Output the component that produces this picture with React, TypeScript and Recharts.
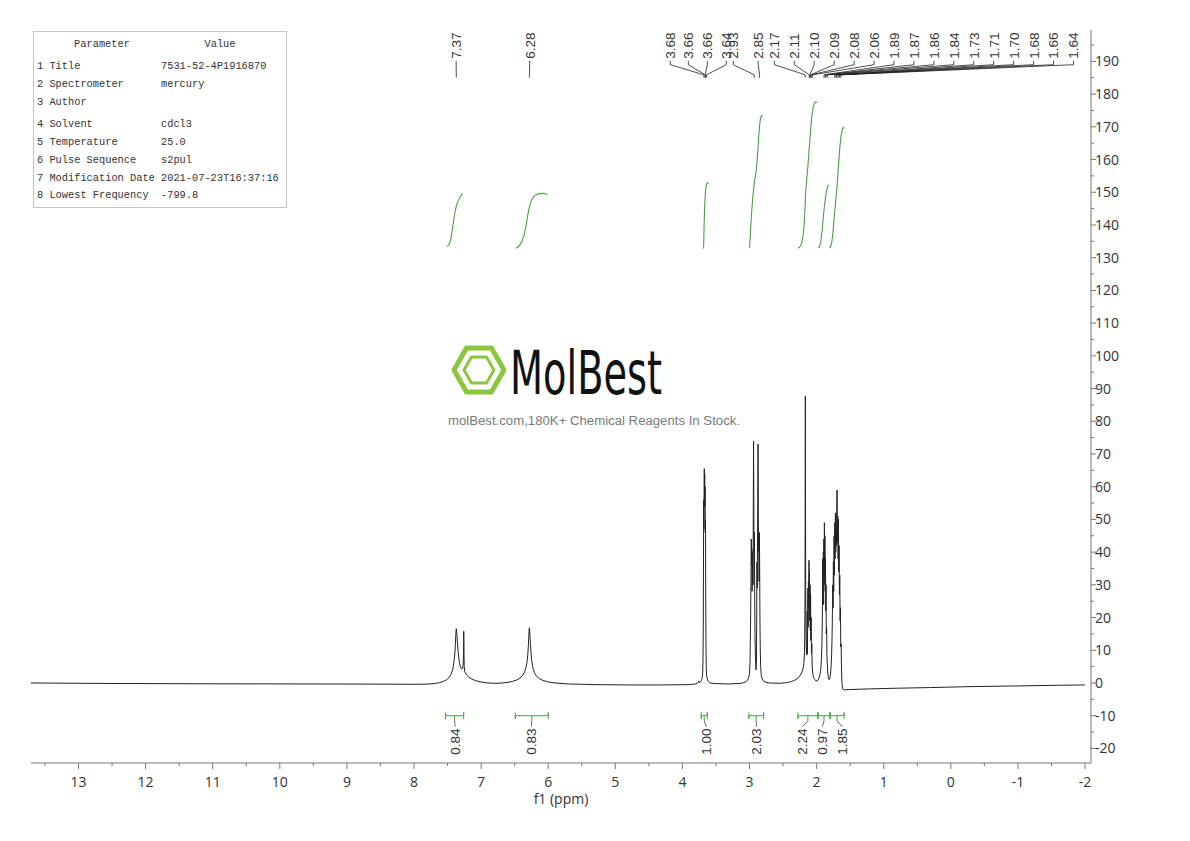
import { ComposedChart, Line, Scatter, XAxis, YAxis } from "recharts";

// ---- spectrum (ppm, intensity) ----
const spectrum: [number, number][] = [
  [13.708, 0.0], [12.5, -0.15], [11.0, -0.25], [9.5, -0.3], [8.5, -0.35], [8.0, -0.4], [7.8, -0.35],
  [7.7, -0.2], [7.62, 0.1], [7.56, 0.5], [7.52, 0.9], [7.48, 1.6], [7.45, 2.6], [7.43, 3.7], [7.415, 5.0],
  [7.4, 7.2], [7.39, 9.5], [7.382, 12.5], [7.376, 15.2], [7.371, 16.6], [7.366, 16.2], [7.36, 14.6],
  [7.352, 12.0], [7.343, 9.6], [7.333, 7.6], [7.32, 5.9], [7.305, 4.8], [7.29, 4.3], [7.278, 4.4],
  [7.268, 5.4], [7.262, 9.0], [7.259, 15.8], [7.256, 10.5], [7.252, 5.0], [7.245, 3.6], [7.23, 2.9],
  [7.21, 2.3], [7.18, 1.7], [7.14, 1.2], [7.08, 0.7], [7.0, 0.3], [6.9, 0.0], [6.78, -0.1], [6.68, 0.0],
  [6.6, 0.2], [6.53, 0.5], [6.47, 0.9], [6.42, 1.5], [6.38, 2.4], [6.35, 3.5], [6.33, 4.8], [6.315, 6.5],
  [6.305, 8.5], [6.297, 11.0], [6.29, 14.0], [6.285, 16.1], [6.281, 16.9], [6.277, 16.3], [6.272, 14.6],
  [6.265, 11.8], [6.257, 9.2], [6.248, 7.2], [6.235, 5.4], [6.22, 4.0], [6.2, 2.9], [6.17, 2.0],
  [6.13, 1.3], [6.08, 0.8], [6.0, 0.3], [5.9, 0.0], [5.7, -0.3], [5.3, -0.5], [4.8, -0.6], [4.3, -0.6],
  [3.9, -0.5], [3.8, -0.3], [3.77, 0.1], [3.755, 0.6], [3.745, 0.1], [3.73, 0.3], [3.715, 0.8],
  [3.705, 1.6], [3.698, 3.0], [3.693, 7], [3.689, 18], [3.686, 38], [3.683, 56], [3.68, 47], [3.677, 58],
  [3.674, 65.5], [3.671, 57], [3.668, 64], [3.665, 54], [3.662, 60], [3.659, 46], [3.656, 50],
  [3.653, 28], [3.649, 12], [3.645, 5], [3.64, 2.5], [3.63, 1.2], [3.615, 0.5], [3.59, 0.0], [3.5, -0.2],
  [3.3, -0.3], [3.12, -0.1], [3.06, 0.3], [3.03, 0.8], [3.01, 1.8], [3.0, 3.0], [2.993, 6], [2.988, 13],
  [2.983, 21], [2.978, 32], [2.974, 44], [2.97, 36], [2.966, 41], [2.962, 28], [2.957, 33], [2.952, 40],
  [2.948, 30], [2.944, 52], [2.94, 74], [2.936, 56], [2.932, 40], [2.928, 46], [2.923, 27], [2.918, 14],
  [2.912, 8], [2.906, 5], [2.902, 4], [2.897, 7], [2.893, 18], [2.889, 37], [2.885, 29], [2.881, 44],
  [2.877, 56], [2.873, 73], [2.869, 52], [2.865, 40], [2.861, 42], [2.857, 31], [2.853, 46], [2.849, 36],
  [2.845, 20], [2.84, 10], [2.834, 5], [2.826, 2.6], [2.815, 1.5], [2.8, 0.8], [2.77, 0.3], [2.7, 0.0],
  [2.55, -0.1], [2.45, 0.1], [2.38, 0.4], [2.33, 0.8], [2.29, 1.3], [2.26, 1.9], [2.235, 2.7],
  [2.215, 3.6], [2.2, 4.6], [2.19, 6.0], [2.183, 8.5], [2.177, 14], [2.173, 28], [2.17, 60],
  [2.168, 87.7], [2.166, 62], [2.163, 30], [2.159, 16], [2.155, 11], [2.151, 9], [2.147, 8.5],
  [2.143, 13], [2.14, 22], [2.137, 9], [2.134, 18], [2.13, 29], [2.126, 17], [2.122, 31], [2.118, 24],
  [2.114, 37.5], [2.11, 23], [2.106, 34], [2.102, 19], [2.098, 30], [2.094, 16], [2.09, 27], [2.086, 13],
  [2.082, 20], [2.077, 9], [2.072, 12], [2.067, 5.5], [2.062, 4], [2.055, 2.6], [2.045, 1.7], [2.03, 1.1],
  [2.01, 0.7], [1.995, 0.6], [1.98, 0.9], [1.965, 1.5], [1.952, 2.4], [1.942, 3.6], [1.934, 5.2],
  [1.927, 8], [1.921, 12], [1.916, 18], [1.912, 26], [1.908, 38], [1.904, 27], [1.9, 40], [1.896, 24],
  [1.892, 44], [1.888, 30], [1.884, 49], [1.88, 33], [1.876, 45], [1.872, 28], [1.868, 38], [1.864, 22],
  [1.86, 30], [1.856, 15], [1.851, 17], [1.846, 8], [1.841, 6], [1.835, 3.4], [1.828, 2.0], [1.82, 1.2],
  [1.812, 1.0], [1.804, 1.4], [1.797, 2.2], [1.79, 3.5], [1.783, 5.5], [1.776, 9], [1.77, 14],
  [1.765, 21], [1.76, 30], [1.755, 23], [1.75, 37], [1.745, 28], [1.74, 45], [1.735, 33], [1.73, 49],
  [1.725, 38], [1.72, 52], [1.715, 40], [1.71, 47], [1.705, 42], [1.7, 54], [1.695, 59], [1.69, 43],
  [1.685, 51], [1.68, 38], [1.675, 50], [1.67, 34], [1.665, 42], [1.66, 27], [1.655, 33], [1.65, 19],
  [1.645, 23], [1.64, 11], [1.635, 12], [1.63, 5], [1.625, 1.5], [1.62, -0.5], [1.614, -1.8],
  [1.6, -2.1], [1.5, -2.0], [1.2, -1.8], [0.8, -1.6], [0.3, -1.4], [-0.3, -1.1], [-1.0, -0.9],
  [-1.6, -0.7], [-2.0, -0.6],
];

// ---- integral curves (green) ----
const integralCurves: [number, number][][] = [
  [[7.51, 133.4], [7.48, 133.9], [7.455, 135.2], [7.435, 137.8], [7.415, 140.6], [7.395, 143.2], [7.375, 145.3], [7.35, 147.0], [7.32, 148.4], [7.29, 149.3], [7.275, 149.6]],
  [[6.48, 132.9], [6.44, 133.4], [6.4, 134.6], [6.36, 136.8], [6.33, 139.8], [6.305, 143.0], [6.28, 145.6], [6.25, 147.6], [6.21, 148.9], [6.15, 149.5], [6.08, 149.7], [6.03, 149.5], [6.015, 149.2]],
  [[3.69, 132.8], [3.684, 133.3], [3.677, 140], [3.668, 146], [3.655, 150.5], [3.64, 152.5], [3.625, 152.9], [3.615, 152.6]],
  [[3.005, 133.0], [2.998, 133.3], [2.985, 138], [2.97, 143.5], [2.955, 147.5], [2.94, 150.8], [2.925, 153.6], [2.91, 155.2], [2.895, 157.5], [2.88, 161.5], [2.865, 166.5], [2.85, 170.5], [2.835, 172.8], [2.82, 173.4], [2.805, 173.2]],
  [[2.275, 132.9], [2.26, 133.1], [2.235, 133.8], [2.21, 135.5], [2.19, 139], [2.175, 144], [2.165, 149.5], [2.15, 153.5], [2.13, 158], [2.11, 163.5], [2.09, 169], [2.07, 173.5], [2.05, 176.2], [2.03, 177.3], [2.01, 177.6], [1.995, 177.3]],
  [[1.975, 132.9], [1.96, 133.2], [1.94, 134.5], [1.92, 138], [1.9, 142.5], [1.88, 146.5], [1.86, 149.5], [1.84, 151.5], [1.825, 152.1], [1.815, 151.9]],
  [[1.81, 132.9], [1.795, 133.2], [1.775, 134.5], [1.755, 138], [1.735, 143], [1.715, 147.5], [1.695, 152], [1.675, 158], [1.655, 163.5], [1.635, 167.5], [1.615, 169.4], [1.6, 169.8], [1.59, 169.5]],
];

// ---- peak picking labels ----
const peakLabels = ["7.37", "6.28", "3.68", "3.66", "3.66", "3.64", "2.93", "2.85", "2.17", "2.11", "2.10", "2.09", "2.08", "2.06", "1.89", "1.87", "1.86", "1.84", "1.73", "1.71", "1.70", "1.68", "1.66", "1.64"];
// where each label sits along the ppm axis
const peakLabelAt = [7.372, 6.276, 4.181, 3.912, 3.629, 3.346, 3.242, 2.87, 2.63, 2.333, 2.036, 1.738, 1.441, 1.144, 0.847, 0.55, 0.252, -0.045, -0.342, -0.639, -0.937, -1.234, -1.531, -1.828];

// ---- integral brackets ----
const integralValues = ["0.84", "0.83", "1.00", "2.03", "2.24", "0.97", "1.85"];
const integralFrom = [7.53, 6.49, 3.72, 3.01, 2.28, 1.98, 1.8];
const integralTo = [7.26, 6.0, 3.63, 2.79, 1.98, 1.8, 1.59];
const integralLabelAt = [7.386, 6.253, 3.644, 2.899, 2.213, 1.915, 1.616];

const ppmTicks = [13.5, 13, 12.5, 12, 11.5, 11, 10.5, 10, 9.5, 9, 8.5, 8, 7.5, 7, 6.5, 6, 5.5, 5, 4.5, 4, 3.5, 3, 2.5, 2, 1.5, 1, 0.5, 0, -0.5, -1, -1.5, -2];
const intensityTicks = [-20, -15, -10, -5, 0, 5, 10, 15, 20, 25, 30, 35, 40, 45, 50, 55, 60, 65, 70, 75, 80, 85, 90, 95, 100, 105, 110, 115, 120, 125, 130, 135, 140, 145, 150, 155, 160, 165, 170, 175, 180, 185, 190, 195];

const paramNames = ["1 Title", "2 Spectrometer", "3 Author", "4 Solvent", "5 Temperature", "6 Pulse Sequence", "7 Modification Date", "8 Lowest Frequency"];
const paramValues = ["7531-52-4P1916870", "mercury", "", "cdcl3", "25.0", "s2pul", "2021-07-23T16:37:16", "-799.8"];

const GREEN = "#4c9f45";
const INK = "#333";
const AXIS = "#777";
const SANS = "'Open Sans', 'Noto Sans', sans-serif";
const LABEL_FONT = "'Liberation Sans', Arial, sans-serif";

const toPts = (arr: [number, number][]) => arr.map(([x, y]) => ({ x, y }));

const XTick = (props: any) => {
  const { x, y, payload } = props;
  const v = payload.value as number;
  const major = Math.abs(v - Math.round(v)) < 1e-6;
  return (
    <g>
      <line x1={x} y1={y} x2={x} y2={y + (major ? 6 : 3)} stroke={AXIS} />
      {major && (
        <text x={x} y={y + 24} textAnchor="middle" fontSize={14} fontFamily={SANS} fill={INK}>
          {v}
        </text>
      )}
    </g>
  );
};

const YTick = (props: any) => {
  const { x, y, payload } = props;
  const v = payload.value as number;
  const major = v % 10 === 0;
  return (
    <g>
      <line x1={x} y1={y} x2={x + (major ? 5 : 3)} y2={y} stroke={AXIS} />
      {major && (
        <text x={x + 4} y={y} dy="0.36em" textAnchor="start" fontSize={14} fontFamily={SANS} fill={INK}>
          {v}
        </text>
      )}
    </g>
  );
};

const RotatedLabel = (props: any) => {
  const { cx, cy, payload } = props;
  if (cx == null || cy == null) return <g />;
  return (
    <text
      transform={`translate(${cx},${cy}) rotate(-90)`}
      dy="0.36em"
      textAnchor={payload.anchor}
      fontSize={13.5}
      fontFamily={LABEL_FONT}
      fill={INK}
    >
      {payload.text}
    </text>
  );
};

const lineProps = {
  dataKey: "y",
  type: "linear" as const,
  dot: false,
  activeDot: false,
  isAnimationActive: false,
  legendType: "none" as const,
};

const ParamTable = () => {
  const rowY = [65, 83, 101, 123, 141, 159, 177, 194];
  const cw = 6.2;
  const t = (s: string, x: number, y: number, anchor: "start" | "middle" = "start") =>
    s ? (
      <text
        x={x}
        y={y + 4}
        fontSize={10.6}
        fontFamily="'Liberation Mono', 'DejaVu Sans Mono', monospace"
        fill={INK}
        textAnchor={anchor}
        textLength={s.length * cw}
        lengthAdjust="spacingAndGlyphs"
      >
        {s}
      </text>
    ) : null;
  return (
    <g>
      <rect x={33.5} y={31.5} width={253} height={176} fill="#fff" stroke="#c4c4c4" />
      {t("Parameter", 102, 43, "middle")}
      {t("Value", 220, 43, "middle")}
      {paramNames.map((n, i) => (
        <g key={n}>
          {t(n, 37, rowY[i])}
          {t(paramValues[i], 161, rowY[i])}
        </g>
      ))}
    </g>
  );
};

const Watermark = () => (
  <g>
    <polygon
      points="504,370 491.5,348 466.5,348 454,370 466.5,392 491.5,392"
      fill="none"
      stroke="#8cc63f"
      strokeWidth={5}
      strokeLinejoin="round"
    />
    <polygon
      points="494,370 486.5,357 471.5,357 464,370 471.5,383 486.5,383"
      fill="none"
      stroke="#8cc63f"
      strokeWidth={3}
      strokeLinejoin="round"
    />
    <text
      x={510}
      y={394}
      fontSize={60}
      fontFamily="'DejaVu Sans', sans-serif"
      fill="#111"
      textLength={152}
      lengthAdjust="spacingAndGlyphs"
    >
      MolBest
    </text>
    <text
      x={448}
      y={425}
      fontSize={12.5}
      fontFamily={LABEL_FONT}
      fill="#7a7a7a"
      textLength={292}
      lengthAdjust="spacingAndGlyphs"
    >
      molBest.com,180K+ Chemical Reagents In Stock.
    </text>
  </g>
);

export default function App() {
  const peakTextData = peakLabels.map((text, i) => ({ x: peakLabelAt[i], y: 190.8, text, anchor: "start" }));
  const integralTextData = integralValues.map((text, i) => ({ x: integralLabelAt[i], y: -13.9, text, anchor: "end" }));

  return (
    <div style={{ position: "absolute", left: 0, top: 0, width: 1190, height: 841, background: "#fff" }}>
      <ComposedChart width={1190} height={841} margin={{ top: 30, right: 39, bottom: 33, left: 31 }}>
        <XAxis
          type="number"
          dataKey="x"
          domain={[-2.089, 13.708]}
          reversed
          allowDataOverflow
          ticks={ppmTicks}
          interval={0}
          tickSize={0}
          tickMargin={0}
          tickLine={false}
          tick={<XTick />}
          height={45}
          axisLine={{ stroke: AXIS }}
          label={{ value: "f1 (ppm)", position: "insideBottom", offset: 4, fill: INK, fontSize: 14, fontFamily: SANS }}
        />
        <YAxis
          type="number"
          dataKey="y"
          orientation="right"
          domain={[-24.46, 199.6]}
          allowDataOverflow
          ticks={intensityTicks}
          interval={0}
          tickSize={0}
          tickMargin={0}
          tickLine={false}
          tick={<YTick />}
          width={60}
          axisLine={{ stroke: AXIS }}
        />

        <Line {...lineProps} data={toPts(spectrum)} stroke="#222" strokeWidth={1} />

        {integralCurves.map((c, i) => (
          <Line key={`int-${i}`} {...lineProps} data={toPts(c)} stroke={GREEN} strokeWidth={1.1} />
        ))}

        {peakLabels.map((lab, i) => {
          const peak = parseFloat(lab);
          return (
            <Line
              key={`pk-${i}`}
              {...lineProps}
              data={[
                { x: peakLabelAt[i], y: 190.2 },
                { x: peakLabelAt[i], y: 189.0 },
                { x: peak, y: 185.9 },
                { x: peak, y: 185.0 },
              ]}
              stroke="#222"
              strokeWidth={0.8}
            />
          );
        })}

        {integralValues.map((_, i) => {
          const a = integralFrom[i];
          const b = integralTo[i];
          const c = (a + b) / 2;
          return [
            <Line
              key={`br-${i}`}
              {...lineProps}
              data={[
                { x: a, y: -9 }, { x: a, y: -11 }, { x: a, y: -10 },
                { x: b, y: -10 }, { x: b, y: -9 }, { x: b, y: -11 },
              ]}
              stroke={GREEN}
              strokeWidth={1}
            />,
            <Line
              key={`bc-${i}`}
              {...lineProps}
              data={[{ x: c, y: -10 }, { x: c, y: -11.6 }]}
              stroke={GREEN}
              strokeWidth={1}
            />,
            <Line
              key={`bl-${i}`}
              {...lineProps}
              data={[{ x: c, y: -11.6 }, { x: integralLabelAt[i], y: -13.4 }]}
              stroke="#444"
              strokeWidth={0.8}
            />,
          ];
        })}

        <Scatter data={peakTextData} shape={<RotatedLabel />} isAnimationActive={false} legendType="none" />
        <Scatter data={integralTextData} shape={<RotatedLabel />} isAnimationActive={false} legendType="none" />
      </ComposedChart>

      <svg width={1190} height={841} style={{ position: "absolute", left: 0, top: 0, pointerEvents: "none" }}>
        <ParamTable />
        <Watermark />
      </svg>
    </div>
  );
}
